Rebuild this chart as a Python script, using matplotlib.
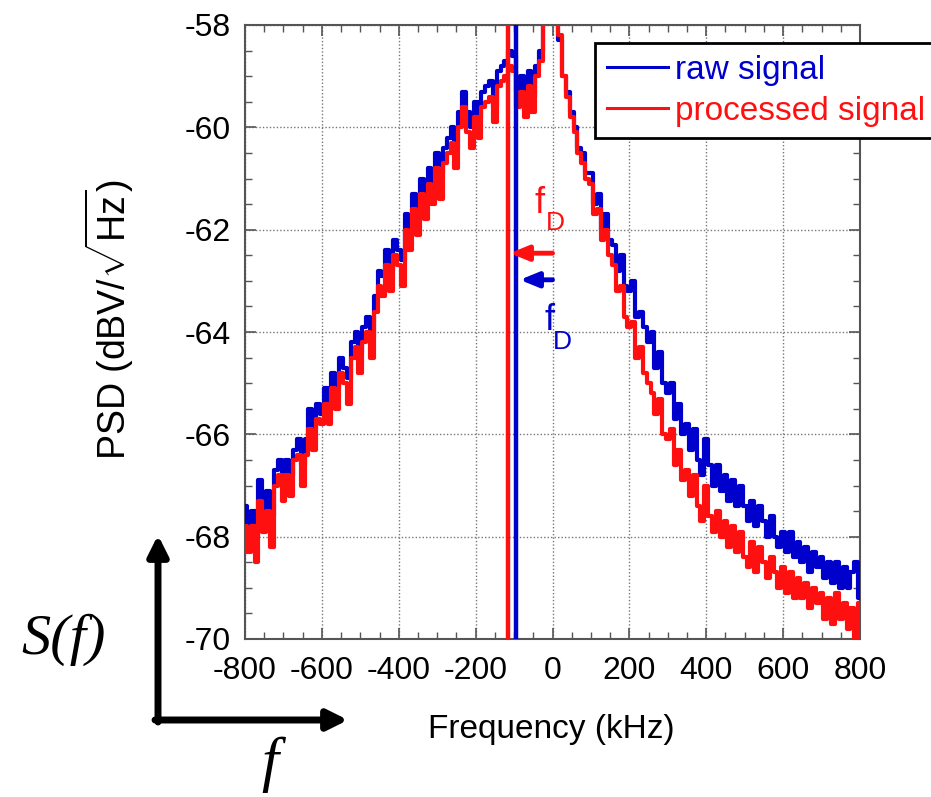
import matplotlib
matplotlib.use('Agg')
import matplotlib.pyplot as plt
from matplotlib.ticker import MultipleLocator

plt.rcParams['font.family'] = ['Liberation Sans', 'DejaVu Sans']
plt.rcParams['mathtext.fontset'] = 'custom'
plt.rcParams['mathtext.rm'] = 'Liberation Sans'
plt.rcParams['mathtext.it'] = 'Liberation Sans:italic'
plt.rcParams['axes.unicode_minus'] = False

freq_khz = list(range(-800, 810, 10))

raw_signal = [
    -67.4, -68.0, -67.5, -68.0, -66.9, -67.5, -67.1, -67.6, -66.7, -66.5,
    -67.0, -66.5, -66.8, -66.3, -66.1, -66.6, -66.1, -65.5, -65.9, -65.4,
    -65.6, -65.1, -65.4, -64.8, -65.1, -64.5, -64.7, -64.9, -64.2, -64.0,
    -64.4, -63.9, -63.7, -64.1, -63.3, -62.8, -62.9, -62.4, -62.8, -62.2,
    -62.4, -62.6, -61.7, -62.0, -61.3, -61.7, -61.0, -61.4, -60.8, -61.1,
    -60.5, -60.9, -60.4, -60.2, -60.0, -60.4, -59.7, -59.3, -59.7, -60.0,
    -59.5, -59.8, -59.3, -59.2, -59.1, -59.6, -58.9, -58.8, -58.7, -58.5,
    -58.6, -59.3, -59.0, -59.5, -58.9, -59.4, -58.8, -58.5,
    -57.6, -56.5, -56.0, -56.5, -58.3, -59.0,
    -59.3, -59.7, -60.0, -60.4, -60.5, -60.9, -60.9, -61.5, -61.3, -62.0,
    -61.7, -62.2, -62.3, -62.8, -62.5, -63.1, -63.2, -63.0, -63.7, -63.6,
    -63.9, -64.2, -64.0, -64.7, -64.4, -65.0, -65.2, -65.0, -65.7, -65.4,
    -66.0, -65.8, -66.3, -65.9, -66.5, -66.8, -66.1, -66.6, -67.0, -66.6,
    -67.1, -66.8, -67.3, -66.9, -67.4, -67.0, -67.4, -67.7, -67.3, -67.8,
    -67.4, -67.7, -68.0, -67.6, -68.0, -68.2, -67.9, -68.3, -67.9, -68.4,
    -68.1, -68.5, -68.2, -68.7, -68.3, -68.6, -68.4, -68.8, -68.5, -68.9,
    -68.5, -69.0, -68.6, -69.0, -68.7, -68.5, -69.2,
]

processed_signal = [
    -67.8, -68.3, -67.8, -68.5, -67.3, -67.9, -67.5, -68.2, -67.0, -66.8,
    -67.3, -66.8, -67.2, -66.5, -66.4, -67.0, -66.4, -65.9, -66.3, -65.7,
    -65.8, -65.4, -65.8, -65.1, -65.5, -64.8, -65.0, -65.4, -64.5, -64.3,
    -64.8, -64.2, -64.0, -64.5, -63.6, -63.1, -63.3, -62.7, -63.2, -62.5,
    -62.7, -63.1, -62.0, -62.4, -61.6, -62.1, -61.3, -61.8, -61.1, -61.5,
    -60.8, -61.4, -60.7, -60.5, -60.3, -60.8, -60.0, -59.6, -60.1, -60.4,
    -59.8, -60.2, -59.6, -59.5, -59.4, -59.9, -59.2, -59.1, -59.0, -58.8,
    -58.9, -59.6, -59.3, -59.8, -59.2, -59.7, -59.0, -58.7,
    -57.7, -56.5, -56.0, -56.5, -58.2, -59.0,
    -59.4, -59.8, -60.1, -60.5, -60.7, -61.0, -61.1, -61.7, -61.6, -62.2,
    -62.0, -62.5, -62.7, -63.2, -63.1, -63.7, -63.9, -63.8, -64.5, -64.3,
    -64.8, -65.0, -65.2, -65.6, -65.3, -66.0, -66.1, -65.9, -66.6, -66.3,
    -66.9, -66.7, -67.2, -66.8, -67.4, -67.7, -67.0, -67.6, -67.9, -67.5,
    -68.0, -67.7, -68.2, -67.8, -68.3, -67.9, -68.4, -68.6, -68.1, -68.7,
    -68.2, -68.5, -68.8, -68.4, -68.7, -69.0, -68.6, -69.1, -68.7, -69.2,
    -68.8, -69.2, -68.9, -69.4, -69.0, -69.3, -69.1, -69.6, -69.2, -69.7,
    -69.1, -69.6, -69.3, -69.8, -69.4, -70.0, -69.3,
]

series_labels = ['raw signal', 'processed signal']
series_colors = ['#0000cc', '#ff1010']
doppler_freq = [-96, -117]      # blue, red
arrow_levels = [-62.98, -62.46]  # blue, red
x_ticks = [-800, -600, -400, -200, 0, 200, 400, 600, 800]
y_ticks = [-70, -68, -66, -64, -62, -60, -58]

W, H = 931, 797
fig = plt.figure(figsize=(W / 100, H / 100), dpi=100)
ax = fig.add_axes([245 / W, 1 - 639 / H, 615 / W, 614 / H])

ax.plot(freq_khz, raw_signal, drawstyle='steps-mid', color=series_colors[0],
        lw=3.0, label=series_labels[0], zorder=3)
ax.plot(freq_khz, processed_signal, drawstyle='steps-mid', color=series_colors[1],
        lw=3.0, label=series_labels[1], zorder=4)

ax.axvline(doppler_freq[1], color=series_colors[1], lw=3.2, zorder=5)
ax.axvline(doppler_freq[0], color=series_colors[0], lw=3.2, zorder=5)

ax.set_xlim(-800, 800)
ax.set_ylim(-70, -58)
ax.set_xticks(x_ticks)
ax.set_yticks(y_ticks)
ax.xaxis.set_minor_locator(MultipleLocator(50))
ax.yaxis.set_minor_locator(MultipleLocator(0.5))
ax.tick_params(which='both', direction='in', top=True, right=True, color='#555555')
ax.tick_params(which='major', length=8, width=1.2)
ax.tick_params(which='minor', length=5, width=1.0)
ax.tick_params(axis='x', which='major', labelsize=23, pad=12)
ax.tick_params(axis='y', which='major', labelsize=23, pad=10)
ax.grid(True, which='major', linestyle=(0, (1, 1.5)), color='#777777', lw=1.0)
for s in ax.spines.values():
    s.set_color('#555555')
    s.set_linewidth(1.5)

ax.set_xlabel('Frequency (kHz)', fontsize=24)
ax.set_ylabel(r'PSD (dBV/$\sqrt{\mathregular{Hz}}$)', fontsize=27)
ax.xaxis.set_label_coords(0.4976, -0.122)
ax.yaxis.set_label_coords(-0.178, 0.52)

leg = ax.legend(loc='upper left', bbox_to_anchor=((595 - 245) / 615, (639 - 43) / 614),
                fontsize=24, frameon=True, fancybox=False, handlelength=1.85,
                handletextpad=0.2, labelspacing=0.3, borderpad=0.35,
                borderaxespad=0)
leg.get_frame().set_edgecolor('black')
leg.get_frame().set_linewidth(2)
leg.get_frame().set_alpha(1)
for t, c in zip(leg.get_texts(), series_colors):
    t.set_color(c)
for h in leg.get_lines():
    h.set_linewidth(2.2)
leg.set_zorder(10)

# Doppler arrows and labels
ax.annotate('', xy=(doppler_freq[1] + 6, arrow_levels[1]), xytext=(0, arrow_levels[1]),
            arrowprops=dict(arrowstyle='-|>,head_length=1.1,head_width=0.45',
                            color=series_colors[1], lw=3.5, shrinkA=0, shrinkB=0), zorder=6)
ax.annotate('', xy=(doppler_freq[0] + 11, arrow_levels[0]), xytext=(0, arrow_levels[0]),
            arrowprops=dict(arrowstyle='-|>,head_length=1.1,head_width=0.45',
                            color=series_colors[0], lw=3.5, shrinkA=0, shrinkB=0), zorder=6)

ov = fig.add_axes([0, 0, 1, 1], facecolor='none')
ov.set_xlim(0, W)
ov.set_ylim(H, 0)
ov.axis('off')

ov.text(540, 203, 'f', color=series_colors[1], fontsize=26, ha='center', va='center')
ov.text(555, 223, 'D', color=series_colors[1], fontsize=19, ha='center', va='center')
ov.text(550, 320, 'f', color=series_colors[0], fontsize=26, ha='center', va='center')
ov.text(562, 342, 'D', color=series_colors[0], fontsize=19, ha='center', va='center')

# schematic S(f) axes
ov.annotate('', xy=(158, 535), xytext=(158, 722),
            arrowprops=dict(arrowstyle='-|>,head_length=1.2,head_width=0.6',
                            color='black', lw=5, shrinkA=0, shrinkB=0))
ov.annotate('', xy=(348, 720), xytext=(155, 720),
            arrowprops=dict(arrowstyle='-|>,head_length=1.2,head_width=0.6',
                            color='black', lw=5, shrinkA=0, shrinkB=0))
ov.text(64, 640, 'S(f)', fontsize=42, family='Liberation Serif', style='italic',
        ha='center', va='center')
ov.text(270, 765, 'f', fontsize=44, family='Liberation Serif', style='italic',
        ha='center', va='center')

fig.savefig('out.png', dpi=100)
